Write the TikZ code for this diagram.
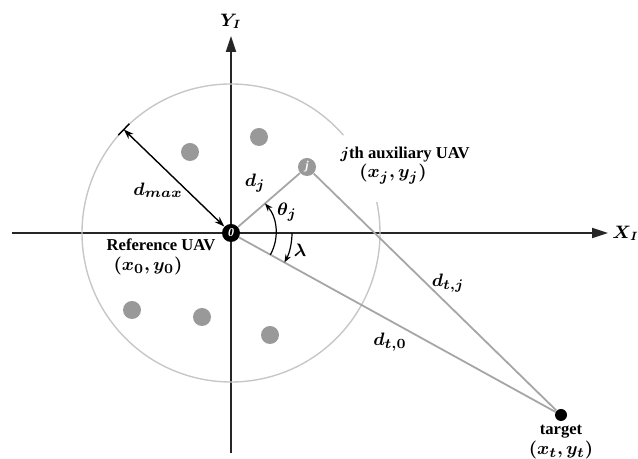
\documentclass[tikz,border=0pt]{standalone}
\usepackage{fontspec}
\setmainfont{Liberation Serif}
\usepackage{bm}
\usetikzlibrary{arrows.meta,calc,positioning,backgrounds}

\begin{document}
\begin{tikzpicture}[
		x=0.5pt,y=0.5pt,
		axis/.style={line width=1pt,black!85,-{Triangle[length=8pt,width=5pt]}},
		ring/.style={line width=0.7pt,black!22},
		link/.style={line width=0.9pt,black!35},
		uavdot/.style={circle,fill=black!40,inner sep=0pt,minimum size=9pt},
		refuav/.style={circle,fill=black,inner sep=0pt,minimum size=9pt,text=white,font=\fontsize{6}{6}\selectfont\bfseries\itshape},
		auxuav/.style={uavdot,text=white,font=\fontsize{6}{6}\selectfont\bfseries\itshape},
		tgtdot/.style={circle,fill=black,inner sep=0pt,minimum size=6pt},
		lbl/.style={font=\fontsize{8.3}{9.5}\selectfont\bfseries,inner sep=1pt},
		mlbl/.style={font=\fontsize{9.3}{10}\selectfont,inner sep=1pt},
		axlbl/.style={font=\fontsize{8.6}{9}\selectfont,inner sep=0.5pt},
		angarrow/.style={line width=0.6pt,-{Stealth[length=4pt,width=3pt]}}
		]
		
		\useasboundingbox (0,0) rectangle (638,459);
		
		% UAV nodes
		\node[refuav] (O) at (231,226) {0};
		\node[auxuav] (j) at (307,292) {j};
		\node[tgtdot] (T) at (561,44) {};
		\node[uavdot] (u1) at (190,307) {};
		\node[uavdot] (u2) at (259,322) {};
		\node[uavdot] (u3) at (132,149) {};
		\node[uavdot] (u4) at (202,142) {};
		\node[uavdot] (u5) at (270,124) {};
		
		% axes and range circle
		\coordinate (xs) at (12,226);
		\coordinate (xe) at (608,226);
		\coordinate (ys) at (231,6);
		\coordinate (ye) at (231,423);
		\begin{scope}[on background layer]
			\draw[axis] (xs) -- (xe);
			\draw[axis] (ys) -- (ye);
			\draw[ring] ($(O)+(41:149)$) arc[start angle=41,end angle=372,radius=149];
		\end{scope}
		\node[axlbl,right=1.5pt of xe] (xl) {$\bm{X}_{\bm{I}}$};
		\node[axlbl,above=3pt of ye] (yl) {$\bm{Y}_{\bm{I}}$};
		
		% distances
		\draw[link] (O) -- (j);
		\draw[link] (j) -- (T);
		\draw[link] (O) -- (T);
		
		% d_max
		\coordinate (P) at ($(O)+(136:149)$);
		\draw[line width=0.7pt] ($(P)+(46:8)$) -- ($(P)+(226:8)$);
		\draw[line width=0.7pt,{Stealth[length=5pt,width=3.5pt]}-{Stealth[length=5pt,width=3.5pt]}] (P) -- (O);
		
		% angles
		\draw[angarrow] ($(O)+(-28.9:45)$) arc[start angle=-28.9,end angle=41,radius=45];
		\draw[angarrow] ($(O)+(0:61)$) arc[start angle=0,end angle=-28.9,radius=61];
		
		% labels
		\node[mlbl] (ldmax) at (158,269) {$\bm{d}_{\bm{max}}$};
		\node[mlbl] (ldj) at (255,276) {$\bm{d}_{\bm{j}}$};
		\node[mlbl] (lth) at (287,247) {$\bm{\theta}_{\bm{j}}$};
		\node[mlbl] (llam) at (300,209) {$\bm{\lambda}$};
		\node[mlbl] (ldtj) at (448,176) {$\bm{d}_{\bm{t,j}}$};
		\node[mlbl] (ldt0) at (390,117) {$\bm{d}_{\bm{t,0}}$};
		\node[lbl] (lref) at (161,214) {Reference UAV};
		\node[mlbl] (lrefxy) at (148,193) {$\bm{(x_0,y_0)}$};
		\node[lbl] (laux) at (405,304) {$\bm{j}$th auxiliary UAV};
		\node[mlbl] (lauxxy) at (393,285) {$\bm{(x_j,y_j)}$};
		\node[lbl] (ltgt) at (561,27) {target};
		\node[mlbl] (ltgtxy) at (561,9) {$\bm{(x_t,y_t)}$};
		
	\end{tikzpicture}
\end{document}
